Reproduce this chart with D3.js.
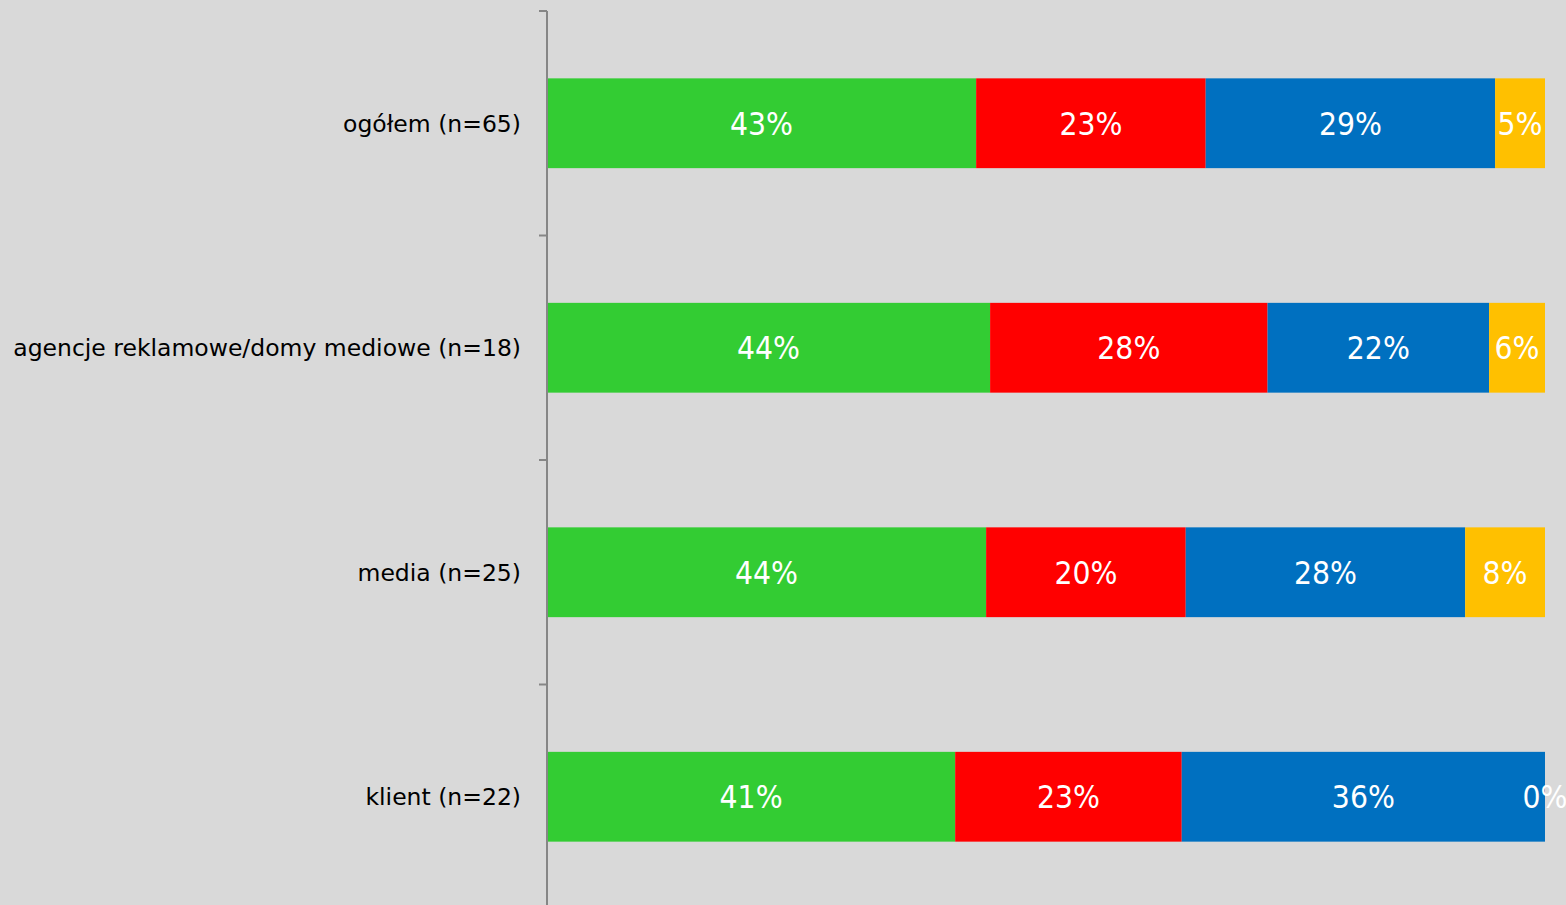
<!DOCTYPE html>
<html><head><meta charset="utf-8">
<script src="https://cdn.jsdelivr.net/npm/d3@7"></script>
<style>html,body{margin:0;padding:0;background:#d9d9d9;overflow:hidden}</style>
</head><body>
<svg id="c" width="1566" height="905"></svg>
<script>
const categories = ["ogółem (n=65)", "agencje reklamowe/domy mediowe (n=18)", "media (n=25)", "klient (n=22)"];
const s1 = [43.0, 44.4, 44.0, 40.9];
const s2 = [23.0, 27.8, 20.0, 22.7];
const s3 = [29.0, 22.2, 28.0, 36.4];
const s4 = [5.0, 5.6, 8.0, 0.0];
const labels1 = ["43%", "44%", "44%", "41%"];
const labels2 = ["23%", "28%", "20%", "23%"];
const labels3 = ["29%", "22%", "28%", "36%"];
const labels4 = ["5%", "6%", "8%", "0%"];
const colors = ["#33cc33", "#ff0000", "#0070c0", "#ffc000"];

const series = [s1, s2, s3, s4];
const labelsAll = [labels1, labels2, labels3, labels4];
const svg = d3.select("#c");
const fontVal = "'DejaVu Sans Condensed', 'DejaVu Sans', sans-serif";
const fontCat = "'DejaVu Sans', sans-serif";

const x = d3.scaleLinear().domain([0, 100]).range([547, 1545]);
const y = d3.scaleBand().domain(categories).range([11, 909]).paddingInner(0.6).paddingOuter(0.3);

const rows = categories.map((c, i) => {
  let acc = 0;
  return series.map((s, k) => {
    const r = {cat: c, k, x0: acc, x1: acc + s[i], label: labelsAll[k][i]};
    acc += s[i];
    return r;
  });
}).flat();

svg.append("g").selectAll("rect").data(rows.filter(d => d.x1 > d.x0)).join("rect")
  .attr("x", d => x(d.x0)).attr("width", d => x(d.x1) - x(d.x0))
  .attr("y", d => y(d.cat)).attr("height", y.bandwidth())
  .attr("fill", d => colors[d.k]);

svg.append("g").selectAll("text").data(rows).join("text")
  .attr("x", d => x((d.x0 + d.x1) / 2))
  .attr("y", d => y(d.cat) + y.bandwidth() / 2)
  .attr("dy", "0.36em")
  .attr("text-anchor", "middle")
  .attr("fill", "#ffffff")
  .style("font-family", fontVal).style("font-size", "31.5px")
  .text(d => d.label);

// axis
const step = y.step();
const bounds = d3.range(categories.length + 1).map(i => 11 + i * step);
const ax = svg.append("g");
ax.append("line").attr("x1", 547).attr("x2", 547).attr("y1", 11).attr("y2", 909)
  .attr("stroke", "#868686").attr("stroke-width", 2);
ax.selectAll("line.t").data(bounds).join("line").attr("class", "t")
  .attr("x1", 539).attr("x2", 547).attr("y1", d => d).attr("y2", d => d)
  .attr("stroke", "#868686").attr("stroke-width", 2);

svg.append("g").selectAll("text").data(categories).join("text")
  .attr("x", 521).attr("y", d => y(d) + y.bandwidth() / 2)
  .attr("dy", "0.36em").attr("text-anchor", "end")
  .attr("fill", "#000")
  .style("font-family", fontCat).style("font-size", "23.5px")
  .text(d => d);
</script>
</body></html>
